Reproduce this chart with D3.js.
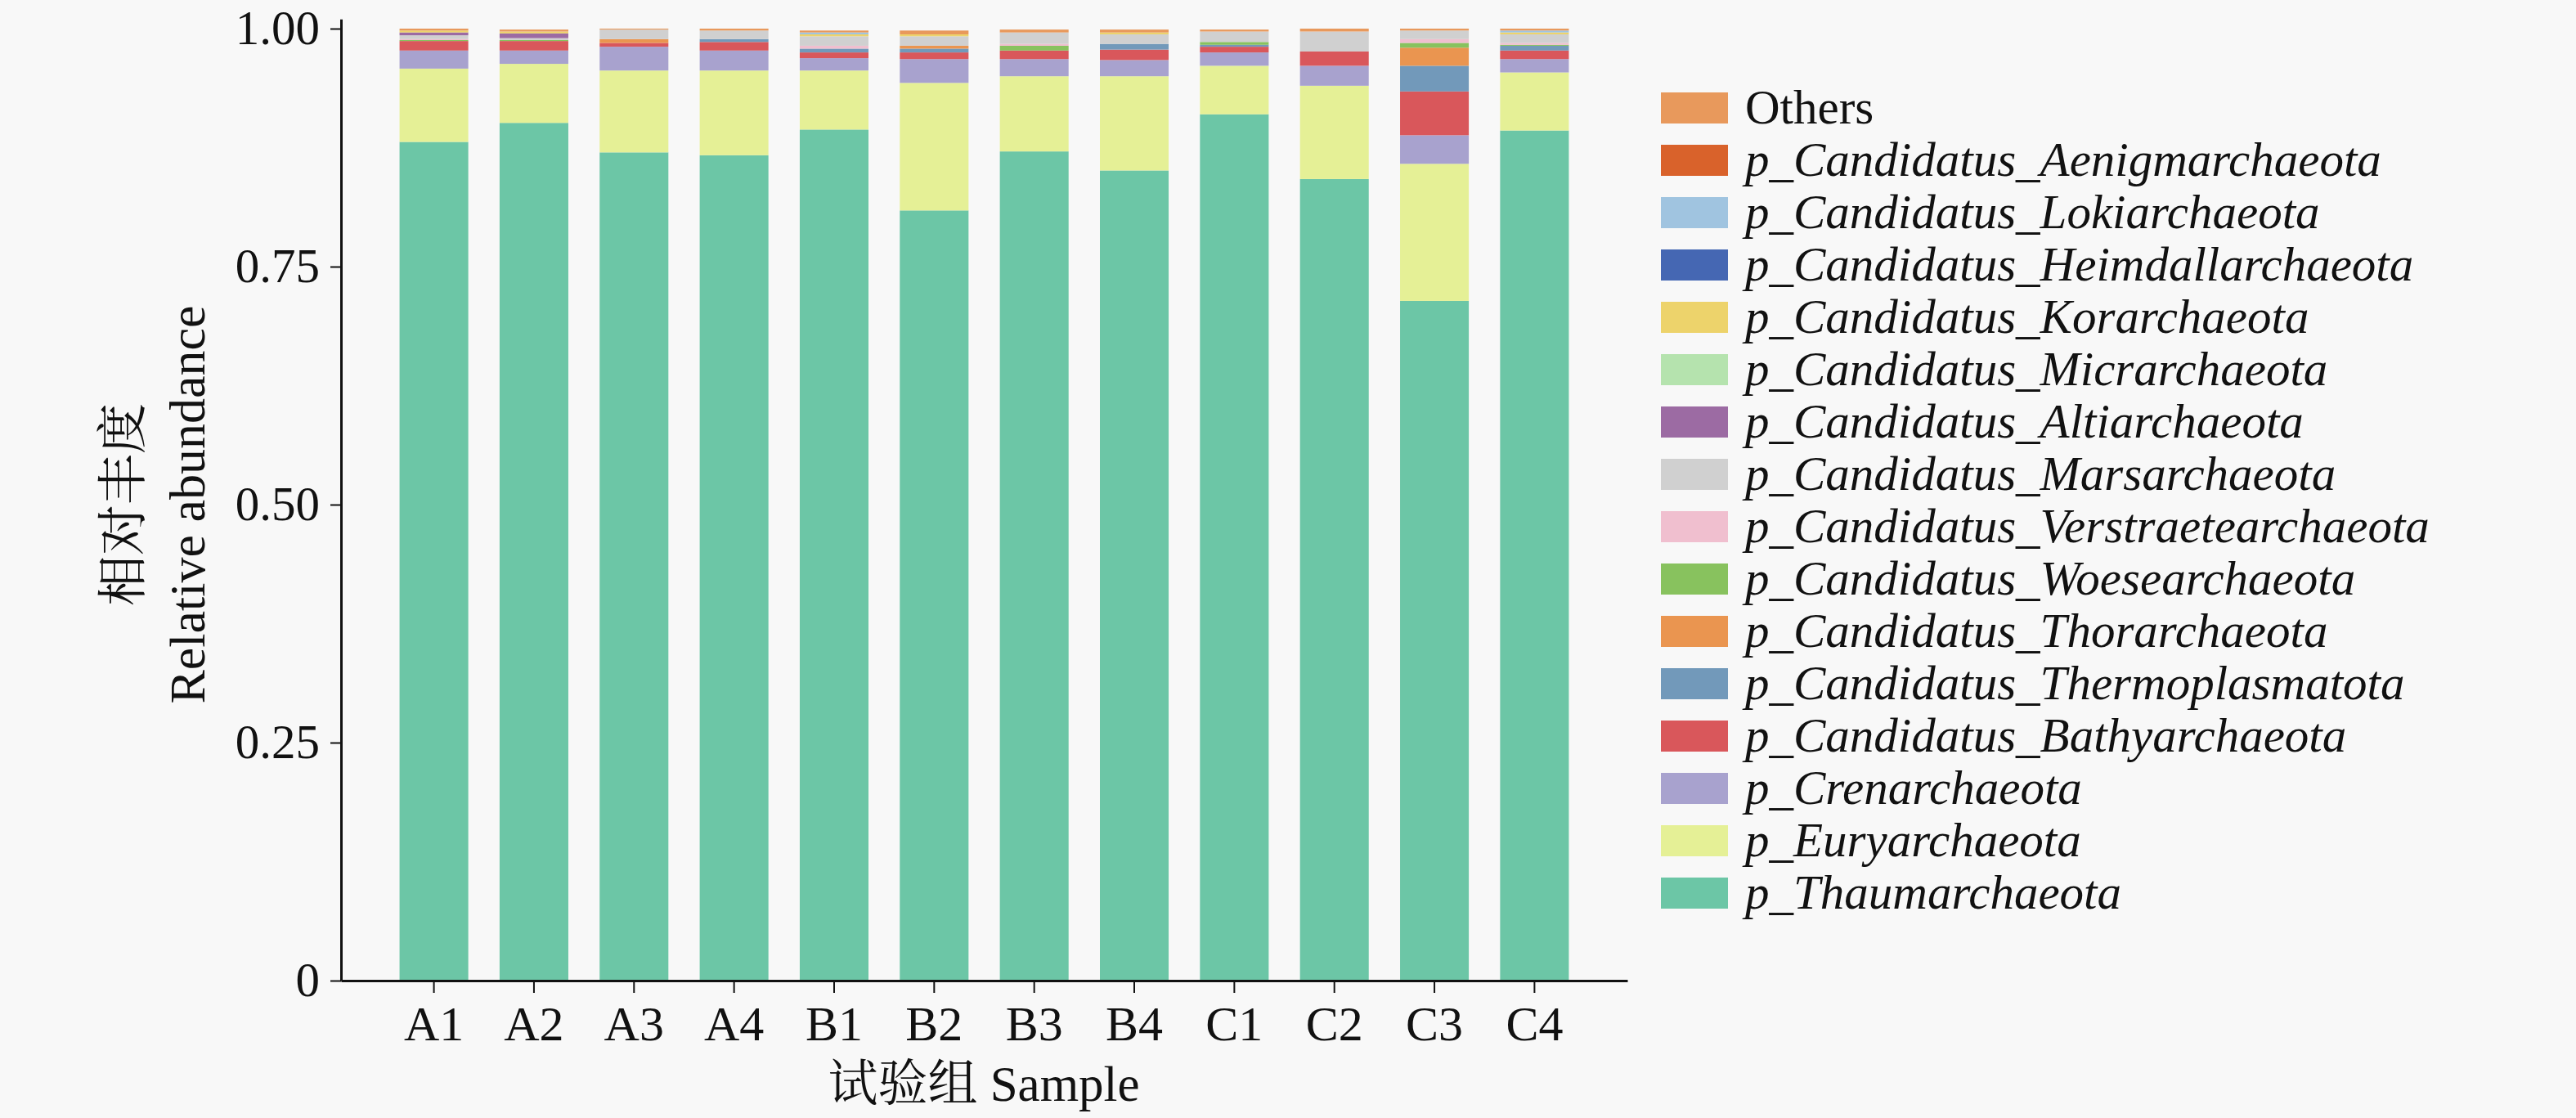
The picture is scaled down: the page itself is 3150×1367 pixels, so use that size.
<!DOCTYPE html>
<html>
<head>
<meta charset="utf-8">
<script src="https://cdn.jsdelivr.net/npm/d3@7"></script>
<style>
  html, body { margin: 0; padding: 0; background: #f8f8f8; }
  svg { display: block; }
  text { font-family: "Liberation Serif", "Times New Roman", "Noto Serif CJK SC", "Noto Sans CJK SC", serif; fill: #111; }
</style>
</head>
<body>
<div id="chart"></div>
<script>
// Samples (x axis)
const samples = ["A1", "A2", "A3", "A4", "B1", "B2", "B3", "B4", "C1", "C2", "C3", "C4"];

// Relative abundance per phylum, one value per sample (A1..C4)
const thaumarchaeota      = [0.881, 0.901, 0.870, 0.867, 0.894, 0.809, 0.871, 0.851, 0.910, 0.842, 0.714, 0.893];
const euryarchaeota       = [0.077, 0.062, 0.086, 0.089, 0.062, 0.134, 0.079, 0.099, 0.051, 0.098, 0.144, 0.061];
const crenarchaeota       = [0.019, 0.014, 0.025, 0.021, 0.013, 0.025, 0.018, 0.017, 0.014, 0.021, 0.030, 0.014];
const bathyarchaeota      = [0.010, 0.010, 0.004, 0.009, 0.006, 0.007, 0.009, 0.011, 0.006, 0.015, 0.046, 0.009];
const thermoplasmatota    = [0.000, 0.000, 0.000, 0.003, 0.004, 0.004, 0.000, 0.006, 0.002, 0.000, 0.027, 0.005];
const thorarchaeota       = [0.000, 0.000, 0.004, 0.000, 0.000, 0.003, 0.000, 0.000, 0.000, 0.000, 0.019, 0.000];
const woesearchaeota      = [0.001, 0.001, 0.000, 0.000, 0.000, 0.000, 0.005, 0.000, 0.003, 0.000, 0.005, 0.001];
const verstraetearchaeota = [0.001, 0.000, 0.000, 0.000, 0.003, 0.000, 0.002, 0.000, 0.000, 0.000, 0.004, 0.002];
const marsarchaeota       = [0.004, 0.002, 0.010, 0.009, 0.010, 0.010, 0.012, 0.010, 0.011, 0.021, 0.009, 0.009];
const altiarchaeota       = [0.003, 0.005, 0.000, 0.000, 0.000, 0.000, 0.000, 0.000, 0.000, 0.000, 0.000, 0.000];
const micrarchaeota       = [0.000, 0.000, 0.000, 0.000, 0.000, 0.000, 0.000, 0.000, 0.000, 0.000, 0.000, 0.000];
const korarchaeota        = [0.002, 0.002, 0.000, 0.000, 0.002, 0.002, 0.000, 0.002, 0.000, 0.000, 0.000, 0.002];
const heimdallarchaeota   = [0.000, 0.000, 0.000, 0.000, 0.000, 0.000, 0.000, 0.000, 0.000, 0.000, 0.000, 0.000];
const lokiarchaeota       = [0.000, 0.000, 0.000, 0.000, 0.002, 0.000, 0.000, 0.000, 0.000, 0.000, 0.000, 0.002];
const aenigmarchaeota     = [0.000, 0.000, 0.000, 0.000, 0.000, 0.000, 0.000, 0.000, 0.000, 0.000, 0.000, 0.000];
const others              = [0.002, 0.002, 0.001, 0.002, 0.002, 0.004, 0.003, 0.003, 0.002, 0.003, 0.002, 0.002];

// Legend labels, top to bottom
const legendLabels = [
  "Others",
  "p_Candidatus_Aenigmarchaeota",
  "p_Candidatus_Lokiarchaeota",
  "p_Candidatus_Heimdallarchaeota",
  "p_Candidatus_Korarchaeota",
  "p_Candidatus_Micrarchaeota",
  "p_Candidatus_Altiarchaeota",
  "p_Candidatus_Marsarchaeota",
  "p_Candidatus_Verstraetearchaeota",
  "p_Candidatus_Woesearchaeota",
  "p_Candidatus_Thorarchaeota",
  "p_Candidatus_Thermoplasmatota",
  "p_Candidatus_Bathyarchaeota",
  "p_Crenarchaeota",
  "p_Euryarchaeota",
  "p_Thaumarchaeota",
];
const legendColors = [
  "#e8995c", "#d9622b", "#a0c4e0", "#4567b3", "#edd36b", "#b5e3ae",
  "#9c6ba3", "#d0d0d0", "#f0bfcf", "#88c25e", "#ea9550", "#7299ba",
  "#d9575b", "#a8a2ce", "#e5f096", "#6cc6a6",
];
const legendValues = [
  others, aenigmarchaeota, lokiarchaeota, heimdallarchaeota, korarchaeota,
  micrarchaeota, altiarchaeota, marsarchaeota, verstraetearchaeota,
  woesearchaeota, thorarchaeota, thermoplasmatota, bathyarchaeota,
  crenarchaeota, euryarchaeota, thaumarchaeota,
];
const yTicks = [0, 0.25, 0.5, 0.75, 1];

const width = 3150;
const height = 1367;

// stack bottom -> top is the reverse of the legend order
const keys = legendLabels.slice().reverse();
const colorOf = new Map(legendLabels.map((k, i) => [k, legendColors[i]]));
const rows = samples.map((s, j) => {
  const r = { sample: s };
  legendLabels.forEach((k, i) => (r[k] = legendValues[i][j]));
  return r;
});
const series = d3.stack().keys(keys)(rows);

const svg = d3.select("#chart").append("svg")
  .attr("width", width)
  .attr("height", height);

const x = d3.scaleBand()
  .domain(samples)
  .range([417, 1990])
  .paddingInner(0.313)
  .paddingOuter(0.585);

const y = d3.scaleLinear()
  .domain([0, 1.01])
  .range([1199, 1199 - 1.01 * 1164]);

// Bars
svg.append("g")
  .selectAll("g")
  .data(series)
  .join("g")
  .attr("fill", (d) => colorOf.get(d.key))
  .selectAll("rect")
  .data((d) => d)
  .join("rect")
  .attr("x", (d) => x(d.data.sample))
  .attr("width", x.bandwidth())
  .attr("y", (d) => y(d[1]))
  .attr("height", (d) => Math.max(0, y(d[0]) - y(d[1])));

// Y axis
const yAxis = svg.append("g")
  .attr("transform", "translate(417,0)")
  .call(d3.axisLeft(y).tickValues(yTicks).tickSize(13).tickSizeOuter(0)
    .tickFormat((d) => (d === 0 ? "0" : d.toFixed(2))));
yAxis.select(".domain").attr("stroke", "#111").attr("stroke-width", 3);
yAxis.selectAll(".tick line").attr("stroke", "#111").attr("stroke-width", 2);
yAxis.selectAll(".tick text")
  .attr("x", -26)
  .attr("font-size", 59)
  .attr("font-family", "Liberation Serif, serif")
  .attr("fill", "#111");

// X axis
const xAxis = svg.append("g")
  .attr("transform", "translate(0,1199)")
  .call(d3.axisBottom(x).tickSize(15).tickSizeOuter(0));
xAxis.select(".domain").attr("stroke", "#111").attr("stroke-width", 3);
xAxis.selectAll(".tick line").attr("stroke", "#111").attr("stroke-width", 2);
xAxis.selectAll(".tick text")
  .attr("y", 30)
  .attr("font-size", 60)
  .attr("font-family", "Liberation Serif, serif")
  .attr("fill", "#111");

// Axis titles
svg.append("text")
  .attr("x", 1203)
  .attr("y", 1346)
  .attr("text-anchor", "middle")
  .attr("font-size", 61)
  .text("试验组 Sample");

const yTitle = svg.append("g")
  .attr("transform", "translate(0,617) rotate(-90)")
  .attr("text-anchor", "middle")
  .attr("font-size", 62);
yTitle.append("text").attr("x", 0).attr("y", 172).text("相对丰度");
yTitle.append("text").attr("x", 0).attr("y", 250).text("Relative abundance");

// Legend
const legend = svg.append("g").attr("transform", "translate(2031,132)");
const item = legend.selectAll("g")
  .data(legendLabels)
  .join("g")
  .attr("transform", (_d, i) => `translate(0,${i * 64})`);
item.append("rect")
  .attr("x", 0)
  .attr("y", -19)
  .attr("width", 82)
  .attr("height", 38)
  .attr("fill", (d) => colorOf.get(d));
item.append("text")
  .attr("x", 103)
  .attr("y", 0)
  .attr("dy", "0.33em")
  .attr("font-size", 59)
  .attr("font-style", (d) => (d === "Others" ? "normal" : "italic"))
  .text((d) => d);
</script>
</body>
</html>
